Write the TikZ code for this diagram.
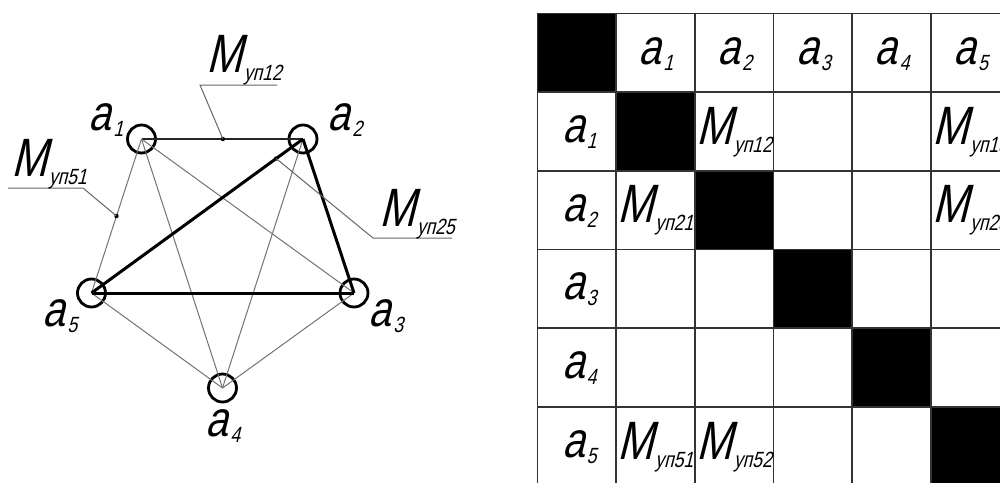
\documentclass[tikz,border=0pt]{standalone}
\usepackage{fontspec}
\newfontfamily\gost[FakeSlant=0.25,FakeStretch=0.8]{Liberation Sans}
\newcommand\lbA[1]{{\fontsize{25}{25}\selectfont a}\kern1.2pt\raisebox{-3pt}{\fontsize{11}{11}\selectfont #1}}
\newcommand\lbM[1]{{\fontsize{27}{27}\selectfont M}\kern0.8pt\raisebox{-4pt}{\fontsize{11}{11}\selectfont уп#1}}
\begin{document}
\begin{tikzpicture}[x=0.5pt,y=-0.5pt,
  vert/.style={circle,draw,line width=1.4pt,minimum size=14pt,inner sep=0pt},
  edgethin/.style={black!55,line width=0.5pt},
  edgeone/.style={black!85,line width=0.6pt},
  edgethick/.style={black,line width=1.5pt},
  leader/.style={black!60,line width=0.5pt},
  lbl/.style={font=\gost,inner sep=0pt},
  gridline/.style={black!80,line width=0.8pt}]
\useasboundingbox (0,0) rectangle (1000,482);
\clip (0,0) rectangle (1000,482);
\fill[white] (0,0) rectangle (1000,482);
% graph vertices
\node[vert] (v1) at (141.5,139) {};
\node[vert] (v2) at (303,139) {};
\node[vert] (v3) at (354,293) {};
\node[vert] (v4) at (222.5,388) {};
\node[vert] (v5) at (91.5,293) {};
% edges
\draw[edgeone] (v1.center) -- (v2.center);
\draw[edgethin] (v1.center) -- (v3.center);
\draw[edgethin] (v1.center) -- (v4.center);
\draw[edgethin] (v1.center) -- (v5.center);
\draw[edgethin] (v2.center) -- (v4.center);
\draw[edgethin] (v3.center) -- (v4.center);
\draw[edgethin] (v5.center) -- (v4.center);
\draw[edgethick] (v2.center) -- (v5.center);
\draw[edgethick] (v2.center) -- (v3.center);
\draw[edgethick] (v5.center) -- (v3.center);
% dots on edges
\path (v1.center) -- (v2.center) coordinate[pos=0.504] (d12);
\path (v5.center) -- (v1.center) coordinate[pos=0.5] (d51);
\path (v2.center) -- (v5.center) coordinate[pos=0.127] (d25);
\fill (d12) circle (2.2);
\fill (d51) circle (2.2);
\fill (d25) circle (2.2);
% leader lines
\coordinate (u12a) at (200,85);
\coordinate (u12b) at (277,85);
\coordinate (u51a) at (83,188);
\coordinate (u51b) at (8,188);
\coordinate (u25a) at (373,238);
\coordinate (u25b) at (452,238);
\draw[leader] (d12) -- (u12a) -- (u12b);
\draw[leader] (d51) -- (u51a) -- (u51b);
\draw[leader] (d25) -- (u25a) -- (u25b);
% vertex labels
\node[lbl] (l1) at (106,120) {\lbA{1}};
\node[lbl] (l2) at (345,120) {\lbA{2}};
\node[lbl] (l3) at (386,316) {\lbA{3}};
\node[lbl] (l4) at (223,426) {\lbA{4}};
\node[lbl] (l5) at (60,316) {\lbA{5}};
% leader labels
\node[lbl] (m12) at (244,60) {\lbM{12}};
\node[lbl] (m51) at (49,164) {\lbM{51}};
\node[lbl] (m25) at (417,214) {\lbM{25}};
% table
\foreach \i in {0,...,5}
  \fill[black] (537.3+\i*78.7,13.3+\i*78.7) rectangle ++(78.7,78.7);
\foreach \i in {0,...,6} {
  \draw[gridline] (537.3+\i*78.7,13.3) -- (537.3+\i*78.7,485.5);
  \draw[gridline] (537.3,13.3+\i*78.7) -- (1009.5,13.3+\i*78.7);
}
\foreach \i in {1,...,5} {
  \node[lbl] (h\i) at (537.3+\i*78.7+40,54) {\lbA{\i}};
  \node[lbl] (r\i) at (537.3+42,13.3+\i*78.7+40) {\lbA{\i}};
}
\node[lbl] (c12) at (537.3+2*78.7+39.35,13.3+78.7+40) {\lbM{12}};
\node[lbl] (c15) at (537.3+5*78.7+39.35,13.3+78.7+40) {\lbM{15}};
\node[lbl] (c21) at (537.3+1*78.7+39.35,13.3+2*78.7+40) {\lbM{21}};
\node[lbl] (c25) at (537.3+5*78.7+39.35,13.3+2*78.7+40) {\lbM{25}};
\node[lbl] (c51) at (537.3+1*78.7+39.35,13.3+5*78.7+40) {\lbM{51}};
\node[lbl] (c52) at (537.3+2*78.7+39.35,13.3+5*78.7+40) {\lbM{52}};
\end{tikzpicture}
\end{document}
